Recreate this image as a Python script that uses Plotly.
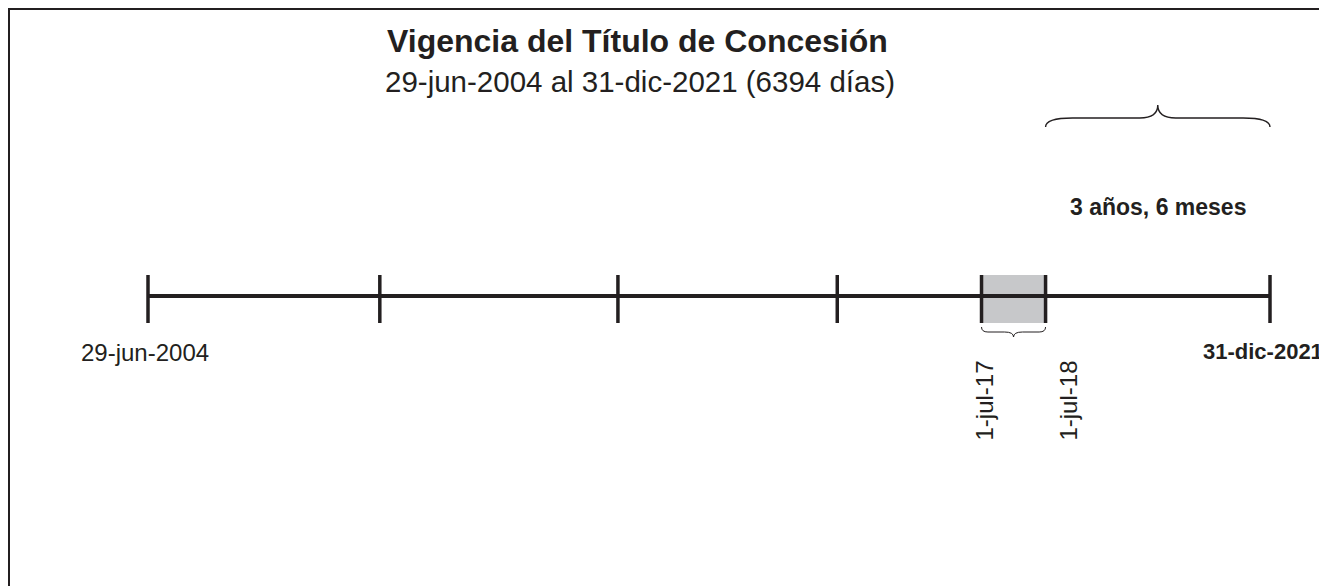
import plotly.graph_objects as go
import pandas as pd

# ---------------- data ----------------
title_text = "Vigencia del Título de Concesión"
subtitle_text = "29-jun-2004 al 31-dic-2021 (6394 días)"
start_date = "2004-06-29"
end_date = "2021-12-31"
# tick marks along the timeline (intermediate ones are unlabeled)
tick_dates = ["2004-06-29", "2008-02-10", "2011-10-29", "2015-04-01",
              "2017-07-01", "2018-07-01", "2021-12-31"]
period_start = "2017-07-01"
period_end = "2018-07-01"
start_label = "29-jun-2004"
end_label = "31-dic-2021"
period_labels = ["1-jul-17", "1-jul-18"]
remaining_label = "3 años, 6 meses"

# ---------------- layout constants ----------------
W, H = 1327, 586
OFF = 8                                # page offset of the figure (body margin)
INK = "#231f20"
GRAY = "#c7c8ca"
X_START_PX, X_END_PX = 148, 1270       # where start/end dates sit on the page
AXIS_Y = 296
TICK_TOP, TICK_BOT = 275, 323
FONT = "Liberation Sans, Arial, sans-serif"

s = pd.Timestamp(start_date)
e = pd.Timestamp(end_date)
days_per_px = (e - s) / (X_END_PX - X_START_PX)
x_range = [s - days_per_px * (X_START_PX - OFF), e + days_per_px * (W + OFF - X_END_PX)]


def fmt(t):
    return pd.Timestamp(t).strftime("%Y-%m-%d_%H:%M:%S")


def brace_path(x0, x1, y_end, y_flat, y_tip, end_frac, mid_frac):
    a, b = pd.Timestamp(x0), pd.Timestamp(x1)
    span = b - a
    mid = a + span / 2
    p1 = a + span * end_frac
    p2 = mid - span * mid_frac
    p3 = mid + span * mid_frac
    p4 = b - span * end_frac
    return (f"M{fmt(a)},{y_end} Q{fmt(a)},{y_flat} {fmt(p1)},{y_flat} "
            f"L{fmt(p2)},{y_flat} Q{fmt(mid)},{y_flat} {fmt(mid)},{y_tip} "
            f"Q{fmt(mid)},{y_flat} {fmt(p3)},{y_flat} "
            f"L{fmt(p4)},{y_flat} Q{fmt(b)},{y_flat} {fmt(b)},{y_end}")


def px(xp):
    return (xp - OFF) / W


fig = go.Figure()

# main timeline
fig.add_trace(go.Scatter(x=[start_date, end_date], y=[AXIS_Y, AXIS_Y],
                         mode="lines", line=dict(color=INK, width=4),
                         hoverinfo="skip", showlegend=False))

shapes = []
# shaded period
shapes.append(dict(type="rect", xref="x", yref="y",
                   x0=period_start, x1=period_end, y0=TICK_TOP, y1=TICK_BOT,
                   fillcolor=GRAY, line=dict(width=0), layer="below"))
# tick marks
for d in tick_dates:
    shapes.append(dict(type="line", xref="x", yref="y", x0=d, x1=d,
                       y0=TICK_TOP, y1=TICK_BOT,
                       line=dict(color=INK, width=3.5)))
# big brace over the remaining period
shapes.append(dict(type="path", xref="x", yref="y",
                   path=brace_path(period_end, end_date, 127, 118, 105, 0.12, 0.08),
                   line=dict(color=INK, width=1.4)))
# small brace under the shaded period
shapes.append(dict(type="path", xref="x", yref="y",
                   path=brace_path(period_start, period_end, 327, 332, 337, 0.1, 0.14),
                   line=dict(color=INK, width=1)))
# frame (top and left edges)
shapes.append(dict(type="line", xref="paper", yref="paper",
                   x0=0, x1=1.02, y0=1 - 0.5 / H, y1=1 - 0.5 / H,
                   line=dict(color=INK, width=3)))
shapes.append(dict(type="line", xref="paper", yref="paper",
                   x0=0.5 / W, x1=0.5 / W, y0=1, y1=-0.02,
                   line=dict(color=INK, width=3)))

mid_remaining = pd.Timestamp(period_end) + (e - pd.Timestamp(period_end)) / 2

annotations = [
    dict(text=f"<b>{title_text}</b>", xref="paper", yref="y", x=px(637), y=41,
         showarrow=False, xanchor="center", yanchor="middle",
         font=dict(family=FONT, size=32, color=INK)),
    dict(text=subtitle_text, xref="paper", yref="y", x=px(640), y=81,
         showarrow=False, xanchor="center", yanchor="middle",
         font=dict(family=FONT, size=29.5, color=INK)),
    dict(text=f"<b>{remaining_label}</b>", xref="x", yref="y",
         x=mid_remaining, y=207, showarrow=False,
         xanchor="center", yanchor="middle",
         font=dict(family=FONT, size=23, color=INK)),
    dict(text=start_label, xref="x", yref="y", x=start_date, y=352,
         xshift=-3, showarrow=False, xanchor="center", yanchor="middle",
         font=dict(family=FONT, size=24, color=INK)),
    dict(text=f"<b>{end_label}</b>", xref="paper", yref="y", x=px(1325), y=351,
         showarrow=False, xanchor="right", yanchor="middle",
         font=dict(family=FONT, size=22, color=INK)),
    dict(text=period_labels[0], xref="x", yref="y", x=period_start, y=401,
         xshift=2, textangle=-90, showarrow=False,
         xanchor="center", yanchor="middle",
         font=dict(family=FONT, size=24, color=INK)),
    dict(text=period_labels[1], xref="x", yref="y", x=period_end, y=401,
         xshift=22, textangle=-90, showarrow=False,
         xanchor="center", yanchor="middle",
         font=dict(family=FONT, size=24, color=INK)),
]

fig.update_layout(
    width=W, height=H,
    margin=dict(l=0, r=0, t=0, b=0, pad=0),
    paper_bgcolor="white", plot_bgcolor="white",
    showlegend=False,
    xaxis=dict(type="date", range=x_range, visible=False, fixedrange=True),
    yaxis=dict(range=[H + OFF, OFF], visible=False, fixedrange=True),
    shapes=shapes, annotations=annotations,
)

fig.write_html("out.html", config={"displayModeBar": False})
